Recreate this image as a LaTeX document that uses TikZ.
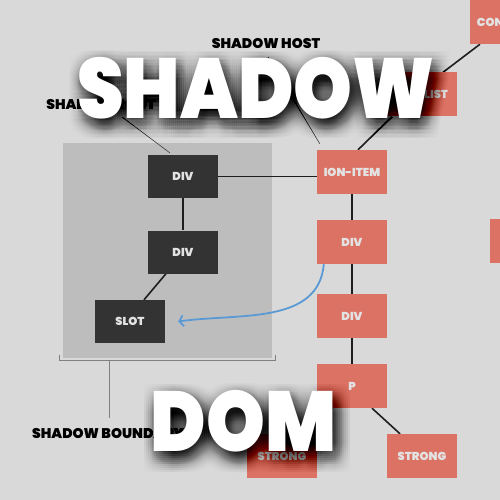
\documentclass[tikz,border=0pt]{standalone}
\usepackage{fontspec}
\setmainfont{Poppins}[UprightFont=* Black]
\newfontfamily\bigfont{Poppins}[UprightFont=* Black]
\usetikzlibrary{arrows.meta,calc}
\pgfdeclarelayer{bg}
\pgfsetlayers{bg,main}
\definecolor{bgc}{HTML}{D9D9D9}
\definecolor{boxc}{HTML}{BDBDBD}
\definecolor{redc}{HTML}{DC7264}
\definecolor{darkc}{HTML}{333333}
\definecolor{ntext}{HTML}{E2E2E2}
\definecolor{bluec}{HTML}{5A9AD4}
\definecolor{linec}{HTML}{1E1E1E}
\tikzset{
  rnode/.style={fill=redc,minimum width=70pt,minimum height=44pt,inner sep=0pt,text=ntext,font=\fontsize{11.5}{12}\selectfont},
  dnode/.style={rnode,fill=darkc,minimum height=43pt},
  edge/.style={draw=linec,line width=1.6pt},
  pointer/.style={draw=black!75,line width=0.6pt},
  lab/.style={font=\fontsize{14}{14}\selectfont,text=black,inner sep=0pt},
  bigt/.style={font=\bigfont\fontsize{85}{85}\selectfont,text=white,inner sep=0pt,anchor=base,xscale=0.88},
  bigs/.style={bigt,text=black,opacity=0.004},
  bign/.style={bigt,text=black,opacity=0.009}
}
\begin{document}
\begin{tikzpicture}[x=1pt,y=-1pt]
\useasboundingbox (0,0) rectangle (500,500);
\clip (0,0) rectangle (500,500);
% nodes
\node[dnode] (div1) at (183,176.5) {DIV};
\node[dnode] (div2) at (183,252) {DIV};
\node[dnode] (slot) at (130,321.5) {SLOT};
\node[rnode] (item) at (352,172) {ION-ITEM};
\node[rnode] (rdiv1) at (352,242) {DIV};
\node[rnode] (rdiv2) at (352,316) {DIV};
\node[rnode] (p) at (352,386) {P};
\node[rnode] (strongr) at (422,456) {STRONG};
\node[rnode] (strongl) at (282,456) {STRONG};
\node[rnode] (list) at (422,94.5) {ION-LIST};
\node[rnode] (con) at (505,22) {CONTENT};
\node[rnode] (side) at (525,241) {};
\begin{pgfonlayer}{bg}
\fill[bgc] (0,0) rectangle (500,500);
\fill[boxc] (63,143) rectangle (272,358);
\draw[edge] (div1.east) -- (item.west |- div1.east);
\draw[edge] (div1) -- (div2);
\draw[edge] ($(div2.south)+(-17,0)$) -- ($(slot.north)+(14,0)$);
\draw[edge] (item) -- (rdiv1);
\draw[edge] (rdiv1) -- (rdiv2);
\draw[edge] (rdiv2) -- (p);
\draw[edge] ($(p.south)+(20,0)$) -- ($(strongr.north)+(-22,0)$);
\draw[edge] ($(p.south)+(-20,0)$) -- ($(strongl.north)+(22,0)$);
\draw[edge] ($(item.north)+(6,0)$) -- ($(list.south)+(-30,0)$);
\draw[edge] ($(list.north)+(21,0)$) -- ($(con.south)+(-25,0)$);
\end{pgfonlayer}
% labels
\node[lab] (hostlab) at (266,44) {SHADOW HOST};
\node[lab] (rootlab) at (101,104.5) {SHADOW ROOT};
\node[lab] (boundlab) at (108,433.5) {SHADOW BOUNDARY};
\coordinate (hostp) at (268,57);
\coordinate (rootp) at (122,117);
\draw[pointer] (hostp) -- ($(item.north west)+(3,-6)$);
\draw[pointer] (rootp) -- ($(div1.north west)+(22,-2)$);
% bracket
\coordinate (bl) at (59,360);
\coordinate (br) at (275,360);
\coordinate (bm) at (109,360);
\coordinate (bmb) at (109,418);
\draw[draw=black!50,line width=0.8pt] ($(bl)+(0,-5)$) -- (bl) -- (br) -- ($(br)+(0,-5)$);
\draw[draw=black!50,line width=0.8pt] (bm) -- (bmb);
% blue arrow
\coordinate (aend) at ($(slot.east)+(13,0)$);
\draw[bluec,line width=1.8pt,-{Straight Barb[length=4pt,width=11pt]}] ($(rdiv1.south west)+(7,0)$) to[out=-95,in=8] (aend);
% big text shadows (soft blur imitation)
\foreach \dx in {-10,-8,...,18} {
  \foreach \dy in {-7,-5,...,21} {
    \node[bigs] at (256+\dx,118+\dy) {SHADOW};
    \node[bigs] at (243.5+\dx,451+\dy) {DOM};
  }
}
\foreach \dx in {-2,0,...,10} {
  \foreach \dy in {1,3,...,13} {
    \node[bign] at (256+\dx,118+\dy) {SHADOW};
    \node[bign] at (243.5+\dx,451+\dy) {DOM};
  }
}
\node[bigt] (bigshadow) at (256,118) {SHADOW};
\node[bigt] (bigdom) at (243.5,451) {DOM};
\end{tikzpicture}
\end{document}
